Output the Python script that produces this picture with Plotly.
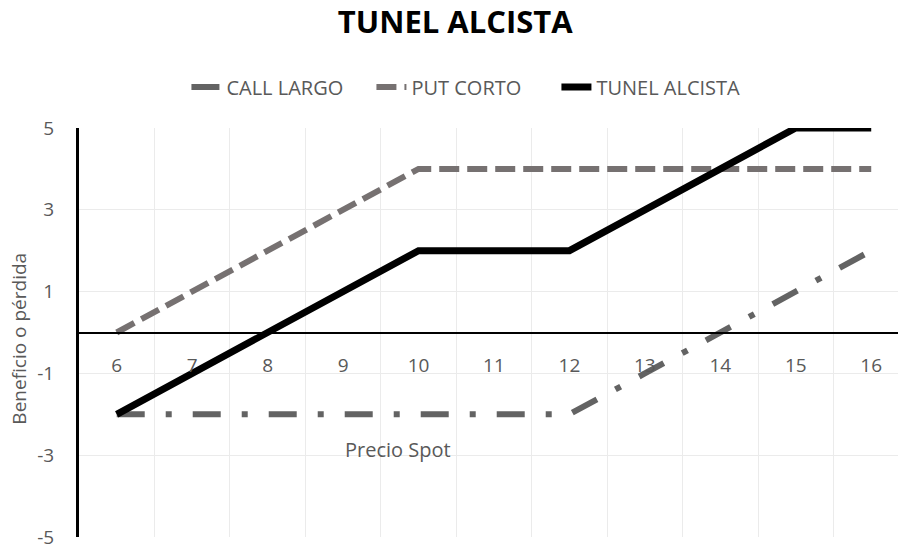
import plotly.graph_objects as go

precio = [6, 7, 8, 9, 10, 11, 12, 13, 14, 15, 16]
call_largo = [-2, -2, -2, -2, -2, -2, -2, -1, 0, 1, 2]
put_corto = [0, 1, 2, 3, 4, 4, 4, 4, 4, 4, 4]
tunel = [-2, -1, 0, 1, 2, 2, 2, 3, 4, 5, 5]
y_ticks = [-5, -3, -1, 1, 3, 5]
y_labels = ["-5", "-3", "-1", "1", "3", "5"]
grid_x = [6.5, 7.5, 8.5, 9.5, 10.5, 11.5, 12.5, 13.5, 14.5, 15.5]

TXT = "#595959"
FONT = "Open Sans"

fig = go.Figure()
fig.add_trace(go.Scatter(x=precio, y=call_largo, name="CALL LARGO", mode="lines",
                         line=dict(color="#636363", width=6, dash="28px,21px,6px,21px")))
fig.add_trace(go.Scatter(x=precio, y=put_corto, name="PUT CORTO", mode="lines",
                         line=dict(color="#767171", width=6, dash="20px,8px")))
fig.add_trace(go.Scatter(x=precio, y=tunel, name="TUNEL ALCISTA", mode="lines",
                         line=dict(color="#000000", width=7)))
# invisible trace to activate the label axis
fig.add_trace(go.Scatter(x=precio, y=[0]*len(precio), xaxis="x2", mode="lines",
                         line=dict(width=0), showlegend=False, hoverinfo="skip"))

fig.update_layout(
    width=898, height=550,
    margin=dict(l=79, r=0, t=128, b=13),
    paper_bgcolor="white", plot_bgcolor="white",
    font=dict(family=FONT, color=TXT, size=19),
    title=dict(text="<b>TUNEL ALCISTA</b>", x=0.507, xanchor="center", y=0.96, yanchor="middle",
               yref="container", font=dict(family=FONT, size=31, color="#000000")),
    legend=dict(orientation="h", x=0.47, xanchor="center", y=1.10, yanchor="middle",
                entrywidth=140, entrywidthmode="pixels",
                font=dict(family=FONT, size=20, color=TXT), bgcolor="rgba(0,0,0,0)"),
    xaxis=dict(range=[5.5, 16.355], tickvals=grid_x, showticklabels=False, showgrid=True,
               gridcolor="#ebebeb", gridwidth=1, zeroline=False, showline=False, ticks=""),
    xaxis2=dict(overlaying="x", matches="x", anchor="free", position=0.5, side="bottom",
                tickvals=precio, ticktext=[str(v) for v in precio], showgrid=False,
                showline=True, linecolor="#000000", linewidth=2, ticks="",
                ticklabelstandoff=16, tickfont=dict(family=FONT, size=19, color=TXT)),
    yaxis=dict(range=[-5, 5], tickvals=y_ticks, ticktext=y_labels, showgrid=True,
               gridcolor="#ebebeb", gridwidth=1,
               zeroline=False, showline=True, linecolor="#000000", linewidth=3,
               ticks="", ticklabelstandoff=18, tickfont=dict(family=FONT, size=19, color=TXT)),
    annotations=[
        dict(text="Precio Spot", x=9.73, y=-2.87, xref="x", yref="y", showarrow=False,
             font=dict(family=FONT, size=20, color=TXT)),
        dict(text="Beneficio o pérdida", x=-60/819, y=0.485, xref="paper", yref="paper",
             xanchor="center", yanchor="middle",
             textangle=-90, showarrow=False, font=dict(family=FONT, size=19, color=TXT)),
    ],
)

fig.write_html("out.html")
